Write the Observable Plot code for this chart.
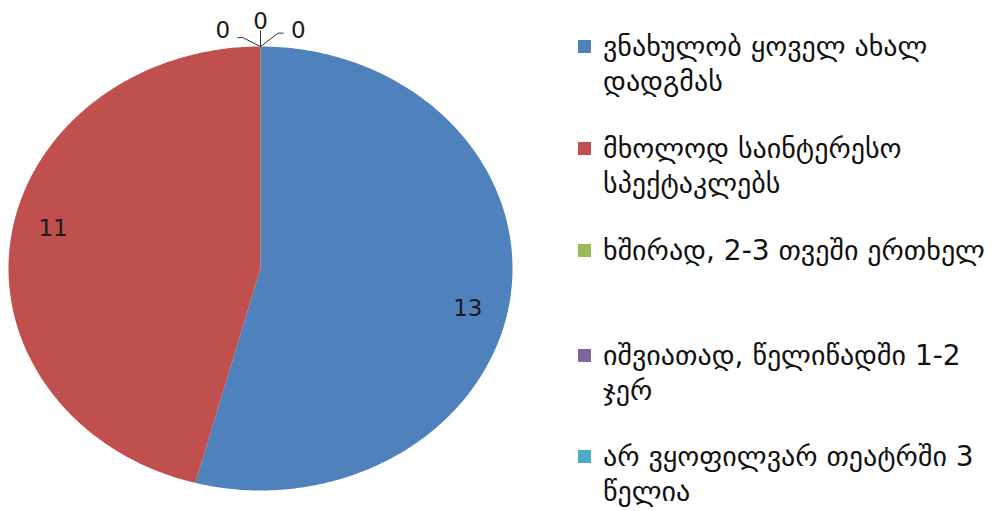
<!DOCTYPE html>
<html>
<head>
<meta charset="utf-8">
<script src="https://cdn.jsdelivr.net/npm/d3@7"></script>
<script src="https://cdn.jsdelivr.net/npm/@observablehq/plot@0.6"></script>
<style>
  html, body { margin: 0; padding: 0; background: #fff; }
  #wrap { position: relative; width: 998px; height: 511px; overflow: hidden; font-family: "DejaVu Sans", sans-serif; }
  #chart { position: absolute; left: 0; top: 0; }
  #legend { position: absolute; left: 0; top: 0; width: 998px; height: 511px; }
  .item { position: absolute; left: 578px; display: flex; align-items: flex-start; }
  .sw { width: 13px; height: 13px; margin-top: 11px; margin-right: 12px; flex: none; }
  .lbl { font-size: 28px; line-height: 35px; color: #111; width: 410px; white-space: nowrap; }
</style>
</head>
<body>
<div id="wrap"><div id="chart"></div><div id="legend"></div></div>
<script>
const categories = [
  "ვნახულობ ყოველ ახალ დადგმას",
  "მხოლოდ საინტერესო სპექტაკლებს",
  "ხშირად, 2-3 თვეში ერთხელ",
  "იშვიათად, წელიწადში 1-2 ჯერ",
  "არ ვყოფილვარ თეატრში 3 წელია"
];
const values = [13, 11, 0, 0, 0];
const colors = ["#4F81BD", "#C0504D", "#9BBB59", "#8064A2", "#4BACC6"];
const legendLines = [
  ["ვნახულობ ყოველ ახალ", "დადგმას"],
  ["მხოლოდ საინტერესო", "სპექტაკლებს"],
  ["ხშირად, 2-3 თვეში ერთხელ"],
  ["იშვიათად, წელიწადში 1-2", "ჯერ"],
  ["არ ვყოფილვარ თეატრში 3", "წელია"]
];

const data = categories.map((c, i) => ({category: c, value: values[i], color: colors[i]}));
const arcs = d3.pie().sort(null).value(d => d.value)(data);

// slice polygons in unit-circle space (angle clockwise from top)
const polys = [];
arcs.forEach((a, i) => {
  if (a.endAngle - a.startAngle <= 0) return;
  const n = Math.max(2, Math.ceil((a.endAngle - a.startAngle) / 0.01));
  polys.push({i, x: 0, y: 0});
  for (let k = 0; k <= n; k++) {
    const t = a.startAngle + (a.endAngle - a.startAngle) * k / n;
    polys.push({i, x: Math.sin(t), y: Math.cos(t)});
  }
  polys.push({i, x: 0, y: 0});
});

// value labels for non-zero slices
const labels = arcs.filter(a => a.data.value > 0).map(a => {
  const m = (a.startAngle + a.endAngle) / 2;
  return {x: Math.sin(m) * 0.83, y: Math.cos(m) * 1.37, text: String(a.data.value)};
});

// zero-slice labels with leader lines fanned at the top
const zeros = arcs.filter(a => a.data.value === 0);
const fan = [-1, 0, 1];
const zeroLabels = zeros.map((a, j) => {
  const s = fan[j];
  return {x: s * 0.15, y: s === 0 ? 1.11 : 1.07, text: String(a.data.value), s};
});
const leaders = [];
zeros.forEach((a, j) => {
  const s = fan[j];
  const ang = a.startAngle;
  leaders.push({j, x: Math.sin(ang), y: Math.cos(ang)});
  if (s === 0) {
    leaders.push({j, x: 0, y: 1.07});
  } else {
    leaders.push({j, x: s * 0.07, y: s < 0 ? 1.04 : 1.06});
    leaders.push({j, x: s * 0.09, y: s < 0 ? 1.04 : 1.06});
  }
});

const chart = Plot.plot({
  width: 560,
  height: 511,
  marginLeft: 8,
  marginRight: 48,
  marginTop: 46,
  marginBottom: 21,
  x: {domain: [-1, 1], axis: null},
  y: {domain: [-1, 1], axis: null},
  style: {fontFamily: "DejaVu Sans, sans-serif", background: "transparent"},
  marks: [
    Plot.line(polys, {x: "x", y: "y", z: "i", fill: d => colors[d.i], stroke: "none", curve: "linear"}),
    Plot.line(leaders, {x: "x", y: "y", z: "j", stroke: "#333", strokeWidth: 1}),
    Plot.text(labels, {x: "x", y: "y", text: "text", fontSize: 23, fill: "#1a1a1a"}),
    Plot.text(zeroLabels, {x: "x", y: "y", text: "text", fontSize: 23, fill: "#1a1a1a"})
  ]
});
document.getElementById("chart").appendChild(chart);

const legend = document.getElementById("legend");
const tops = [29, 131, 233, 338, 439];
legendLines.forEach((lines, i) => {
  const item = document.createElement("div");
  item.className = "item";
  item.style.top = tops[i] + "px";
  const sw = document.createElement("div");
  sw.className = "sw";
  sw.style.background = colors[i];
  const lbl = document.createElement("div");
  lbl.className = "lbl";
  lbl.innerHTML = lines.join("<br>");
  item.appendChild(sw);
  item.appendChild(lbl);
  legend.appendChild(item);
});
</script>
</body>
</html>
